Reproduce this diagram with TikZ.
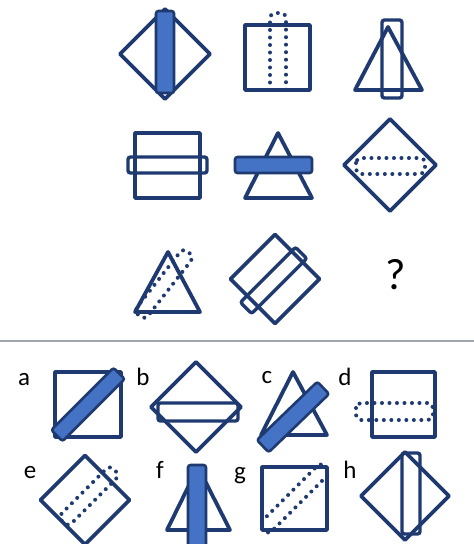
\documentclass[tikz,border=0pt]{standalone}
\usepackage{fontspec}
\setmainfont{Carlito}
\definecolor{navy}{HTML}{1E3A70}
\definecolor{barblue}{HTML}{4472C4}
\definecolor{sepgray}{HTML}{A0A6AD}
\tikzset{
  ol/.style={draw=navy, line width=3.8pt, line join=round},
  barfill/.style={draw=navy, fill=barblue, line width=2.6pt, rounded corners=2.5pt},
  barout/.style={draw=navy, line width=3.4pt, rounded corners=2.5pt},
  dotbar/.style={draw=navy, line width=4pt, line cap=round, dash pattern=on 0pt off 7.5pt, rounded corners=5pt},
  lbl/.style={font=\fontsize{25}{25}\selectfont, text=black, anchor=base, inner sep=0pt},
}
\begin{document}
\begin{tikzpicture}[x=1pt,y=-1pt]
\useasboundingbox (0,0) rectangle (474,544);
\fill[white] (0,0) rectangle (474,544);
% ---- row 1 ----
% 1: diamond with filled bar
\draw[ol] (165,9) -- (210,54) -- (165,99) -- (120,54) -- cycle;
\draw[barfill] (156,11) rectangle (174,93);
% 2: square with dotted bar
\draw[ol] (245,25) rectangle (310,90);
\draw[dotbar] (270,90) -- (270,13) -- (286,13) -- (286,90);
% 3: triangle with outline bar
\draw[ol] (388,27) -- (422,90) -- (355,90) -- cycle;
\draw[barout] (382,20) rectangle (402,98);
% ---- row 2 ----
% 4: square with outline bar
\draw[ol] (135,133) rectangle (200,198);
\draw[barout] (128,157) rectangle (207,173);
% 5: triangle with filled bar
\draw[ol] (278,133) -- (312,198) -- (245,198) -- cycle;
\draw[barfill] (235,157) rectangle (312,173);
% 6: diamond with dotted bar
\draw[ol] (390,119) -- (436,165) -- (390,211) -- (344,165) -- cycle;
\draw[dotbar] (356,158) rectangle (425,174);
% ---- row 3 ----
% 7: triangle with dotted tilted bar
\draw[ol] (168,252) -- (200,312) -- (135,312) -- cycle;
\begin{scope}[shift={(164,284)}, rotate=52]
  \draw[dotbar] (-40,-7) rectangle (40,7);
\end{scope}
% 8: rotated square with outline bar
\begin{scope}[shift={(275,279)}, rotate=45]
  \draw[ol] (-31.5,-31.5) rectangle (31.5,31.5);
  \draw[barout] (-41,-8) rectangle (37,8);
\end{scope}
% question mark
\node[font=\fontsize{44}{44}\selectfont, anchor=base, inner sep=0pt] (qm) at (396,289) {?};
% separator
\draw[sepgray, line width=2pt] (0,341) -- (474,341);
% ---- answers ----
% a
\node[lbl] (la) at (24,385) {a};
\draw[ol] (55,372) rectangle (121,437);
\begin{scope}[shift={(88,404.5)}, rotate=45]
  \draw[barfill] (-44,-8) rectangle (44,8);
\end{scope}
% b
\node[lbl] (lb) at (143,385) {b};
\draw[ol] (196,362) -- (241,407) -- (196,452) -- (151,407) -- cycle;
\draw[barout] (158,403) rectangle (238,421);
% c
\node[lbl] (lc) at (267,383) {c};
\draw[ol] (293,372) -- (327,435) -- (261,435) -- cycle;
\begin{scope}[shift={(293,417)}, rotate=44]
  \draw[barfill] (-42,-8.5) rectangle (42,8.5);
\end{scope}
% d
\node[lbl] (ld) at (345,385) {d};
\draw[ol] (372,372) rectangle (435,437);
\draw[dotbar] (356,403) rectangle (433,420);
% e
\node[lbl] (le) at (30,478) {e};
\begin{scope}[shift={(85,500)}, rotate=45]
  \draw[ol] (-31.5,-31.5) rectangle (31.5,31.5);
  \draw[dotbar] (-31,-7) rectangle (42,7);
\end{scope}
% f
\node[lbl] (lf) at (160,478) {f};
\draw[ol] (198,467) -- (230,530) -- (167,530) -- cycle;
\draw[barfill] (188,465) rectangle (206,556);
% g
\node[lbl] (lg) at (240,479) {g};
\draw[ol] (262,467) rectangle (327,530);
\begin{scope}[shift={(294.5,498.5)}, rotate=45]
  \draw[dotbar] (-44,-7) rectangle (44,7);
\end{scope}
% h
\node[lbl] (lh) at (350,478) {h};
\draw[ol] (405,452) -- (449,496) -- (405,540) -- (361,496) -- cycle;
\draw[barout] (402,453) rectangle (420,534);
\end{tikzpicture}
\end{document}
